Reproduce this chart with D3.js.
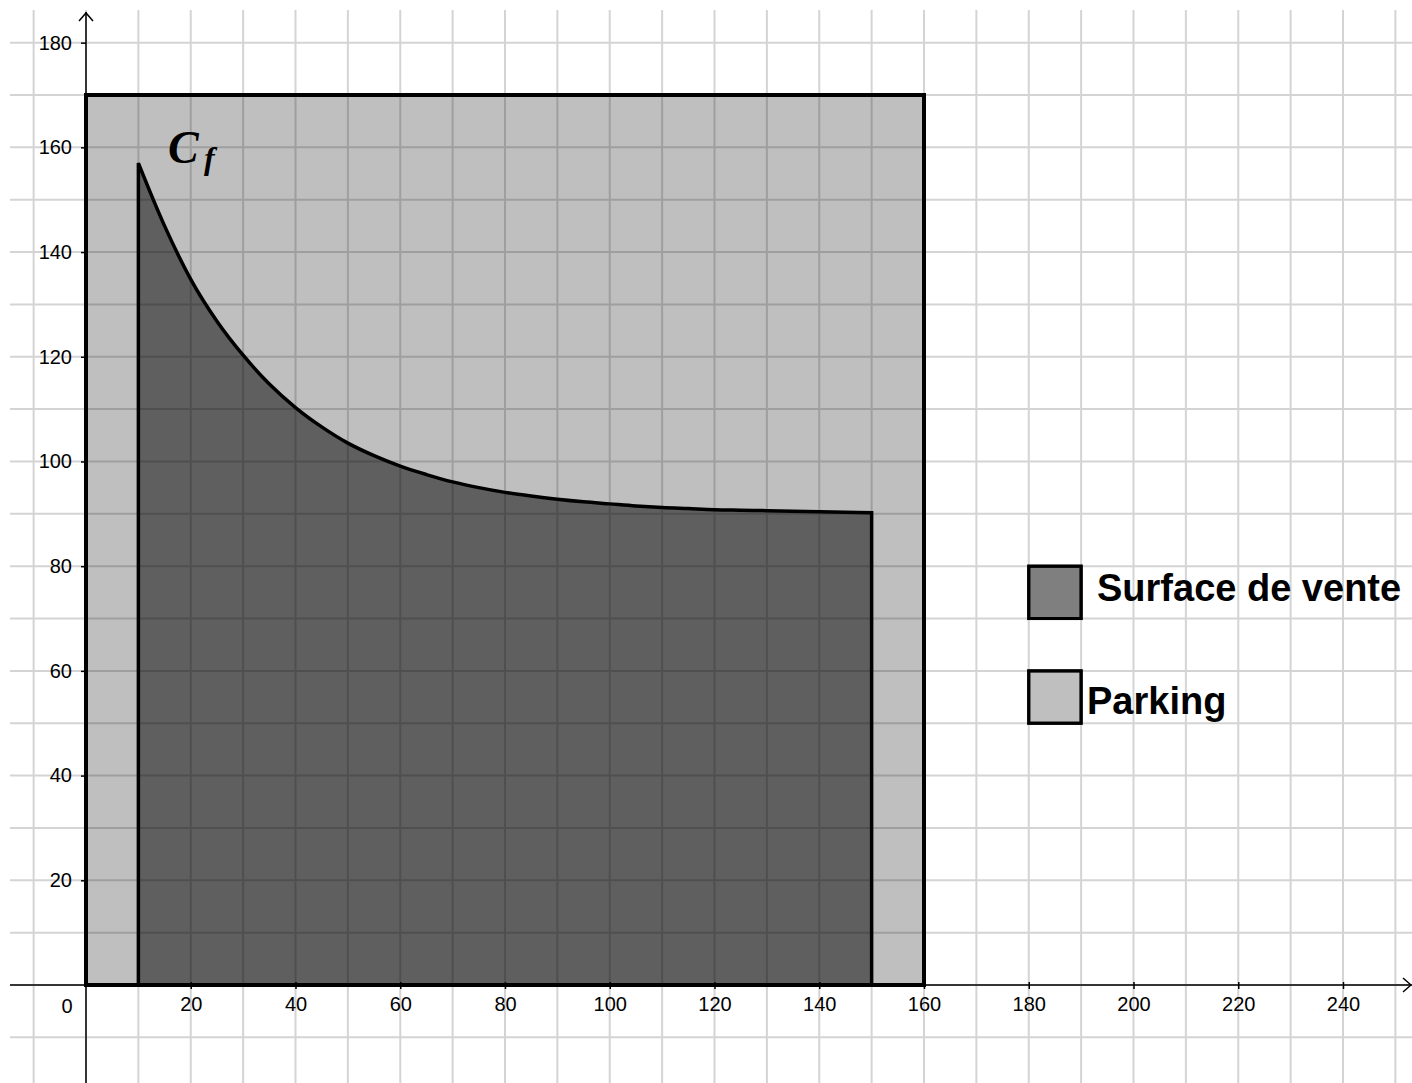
<!DOCTYPE html>
<html>
<head>
<meta charset="utf-8">
<script src="https://cdn.jsdelivr.net/npm/d3@7"></script>
<style>
  body { margin: 0; background: #fff; }
  svg { display: block; }
  .tick text { font-family: "Liberation Sans", Arial, sans-serif; font-size: 20px; fill: #000; }
</style>
</head>
<body>
<div id="chart-area"></div>
<script>
var width = 1412, height = 1083;

// curve C_f (x in m, y in m)
var curveX = [10, 15, 20, 25, 30, 35, 40, 45, 50, 55, 60, 65, 70, 75, 80, 85, 90, 95, 100, 105, 110, 115, 120, 125, 130, 135, 140, 145, 150];
var curveY = [157, 145, 134.8, 126.8, 120.3, 114.8, 110.3, 106.6, 103.5, 101.1, 99.1, 97.5, 96.1, 95.0, 94.1, 93.4, 92.8, 92.3, 91.9, 91.5, 91.2, 91.0, 90.8, 90.7, 90.6, 90.5, 90.4, 90.3, 90.2];

// parking rectangle [x0, x1] x [y0, y1]
var parkingX = [0, 160], parkingY = [0, 170];

var xTicks = [20, 40, 60, 80, 100, 120, 140, 160, 180, 200, 220, 240];
var yTicks = [20, 40, 60, 80, 100, 120, 140, 160, 180];

var legendLabels = ["Surface de vente", "Parking"];
var legendY = [80, 60];   // top of each legend box (units)
var legendOpacity = [0.5, 0.25];

var svg = d3.select("#chart-area").append("svg")
    .attr("width", width)
    .attr("height", height);

var x = d3.scaleLinear().domain([0, 160]).range([86, 924]);
var y = d3.scaleLinear().domain([0, 170]).range([985, 95]);

// grid
var grid = svg.append("g").attr("class", "grid");
grid.selectAll("line.v").data(d3.range(-10, 260, 10)).enter().append("line")
    .attr("x1", (d) => x(d)).attr("x2", (d) => x(d))
    .attr("y1", 10).attr("y2", height)
    .attr("stroke", "#d4d4d4").attr("stroke-width", 2);
grid.selectAll("line.h").data(d3.range(-10, 190, 10)).enter().append("line")
    .attr("y1", (d) => y(d)).attr("y2", (d) => y(d))
    .attr("x1", 10).attr("x2", width)
    .attr("stroke", "#d4d4d4").attr("stroke-width", 2);

// parking
svg.append("rect")
    .attr("x", x(parkingX[0])).attr("y", y(parkingY[1]))
    .attr("width", x(parkingX[1]) - x(parkingX[0]))
    .attr("height", y(parkingY[0]) - y(parkingY[1]))
    .attr("fill", "#000").attr("fill-opacity", 0.25)
    .attr("stroke", "#000").attr("stroke-width", 4);

// surface de vente
var pts = curveX.map((d, i) => [d, curveY[i]]);
var area = d3.area()
    .x((d) => x(d[0]))
    .y0(y(0))
    .y1((d) => y(d[1]))
    .curve(d3.curveMonotoneX);
svg.append("path")
    .datum(pts)
    .attr("d", area)
    .attr("fill", "#000").attr("fill-opacity", 0.5)
    .attr("stroke", "#000").attr("stroke-width", 3.5)
    .attr("stroke-linejoin", "miter");

// axes
var xAxisCall = d3.axisBottom(x).tickValues(xTicks).tickSize(4).tickPadding(8);
var xAxis = svg.append("g")
    .attr("transform", "translate(0, " + y(0) + ")")
    .call(xAxisCall);
xAxis.select(".domain").remove();
xAxis.selectAll(".tick line").attr("y1", -3).attr("stroke-width", 1.5);

var yAxisCall = d3.axisLeft(y).tickValues(yTicks).tickSize(5).tickPadding(9);
var yAxis = svg.append("g")
    .attr("transform", "translate(" + x(0) + ", 0)")
    .call(yAxisCall);
yAxis.select(".domain").remove();
yAxis.selectAll(".tick line").attr("stroke-width", 1.5);

svg.append("text")
    .attr("x", 67).attr("y", y(0) + 28)
    .attr("text-anchor", "middle")
    .style("font-family", "Liberation Sans, Arial, sans-serif")
    .style("font-size", "20px")
    .text("0");

svg.append("line")
    .attr("x1", 10).attr("x2", width).attr("y1", y(0)).attr("y2", y(0))
    .attr("stroke", "#000").attr("stroke-width", 1.5);
svg.append("path")
    .attr("d", "M" + (width - 9) + "," + (y(0) - 7) + "L" + (width - 1) + "," + y(0) + "L" + (width - 9) + "," + (y(0) + 7))
    .attr("fill", "none").attr("stroke", "#000").attr("stroke-width", 1.5);
svg.append("line")
    .attr("x1", x(0)).attr("x2", x(0)).attr("y1", 12).attr("y2", height)
    .attr("stroke", "#000").attr("stroke-width", 1.5);
svg.append("path")
    .attr("d", "M" + (x(0) - 7) + ",21L" + x(0) + ",13L" + (x(0) + 7) + ",21")
    .attr("fill", "none").attr("stroke", "#000").attr("stroke-width", 1.5);

// C_f label
var cf = svg.append("text")
    .style("font-family", "Liberation Serif, serif")
    .style("font-weight", "bold").style("font-style", "italic");
cf.append("tspan").attr("x", 168).attr("y", 163).style("font-size", "46px").text("C");
cf.append("tspan").attr("x", 204).attr("y", 169).style("font-size", "32px").text("f");

// legend
var legend = svg.selectAll("g.legend").data(legendLabels).enter().append("g")
    .attr("class", "legend");
legend.append("rect")
    .attr("x", x(180)).attr("y", (d, i) => y(legendY[i]))
    .attr("width", x(190) - x(180))
    .attr("height", (d, i) => y(legendY[i] - 10) - y(legendY[i]))
    .attr("fill", "#000").attr("fill-opacity", (d, i) => legendOpacity[i])
    .attr("stroke", "#000").attr("stroke-width", 3);
legend.append("rect")
    .attr("x", x(180)).attr("y", (d, i) => y(legendY[i]))
    .attr("width", x(190) - x(180))
    .attr("height", (d, i) => y(legendY[i] - 10) - y(legendY[i]))
    .attr("fill", "none")
    .attr("stroke", "#000").attr("stroke-width", 3);
legend.append("text")
    .attr("x", (d, i) => i == 0 ? 1097 : 1087)
    .attr("y", (d, i) => i == 0 ? 601 : 714)
    .style("font-family", "Liberation Sans, Arial, sans-serif")
    .style("font-weight", "bold")
    .style("font-size", "38px")
    .text((d) => d);
</script>
</body>
</html>
